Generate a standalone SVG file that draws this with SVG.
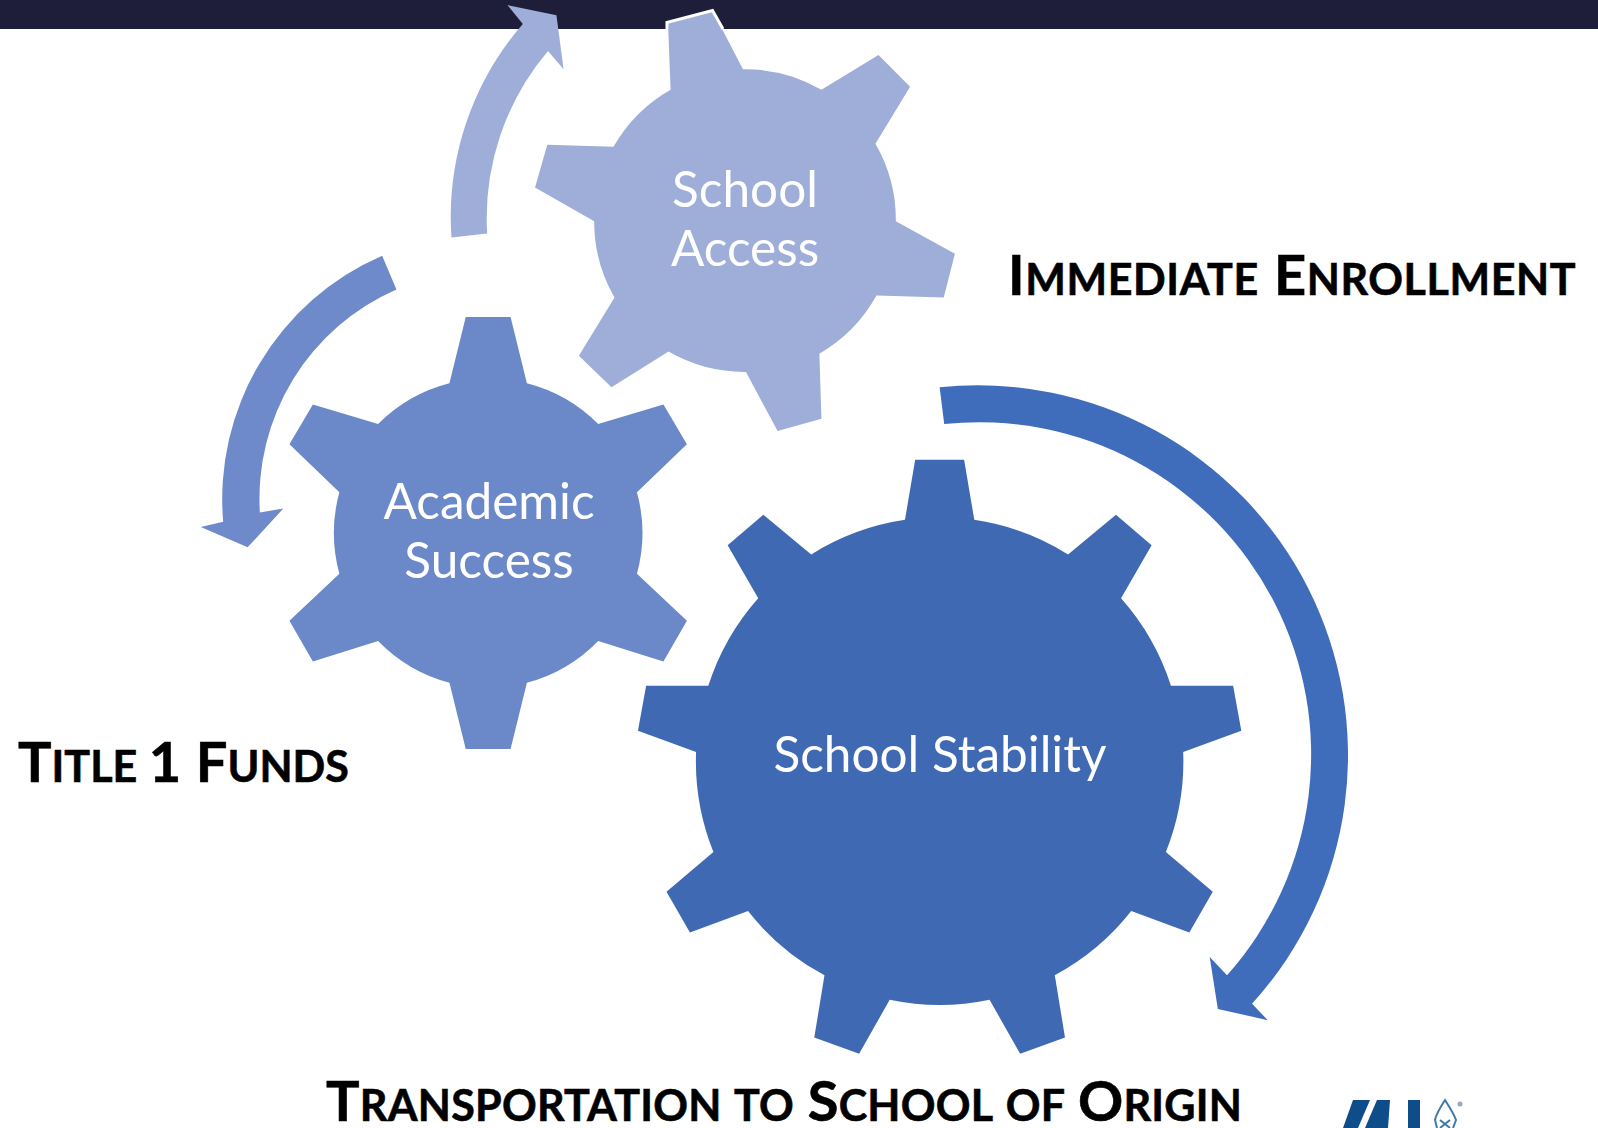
<svg xmlns="http://www.w3.org/2000/svg" width="1598" height="1128" viewBox="0 0 1598 1128">
<style>
.lbl{font-family:Lato,"Noto Sans",sans-serif;font-size:49.5px;fill:#fff;text-anchor:middle}
.cap{font-family:Lato,"Noto Sans",sans-serif;font-weight:700;font-size:43px;fill:#000;stroke:#000;stroke-width:.6}
.big{font-size:56px}
.g1{fill:#9FAED8}.g2{fill:#6B88C8}.g3{fill:#3F69B3}
</style>
<rect id="top-bar" width="1598" height="29" fill="#1E1E3A"/>
<g id="connectors" transform="scale(1.01913)">
<path class="g1" d="M498 5L546 15L553 68L537.7 50A254 254 0 0 0 478 229L443 233A289 289 0 0 1 513 23.5Z"/>
<path fill="#6E8ACA" d="M375 251L389 284A224 224 0 0 0 255 503L278 499L243 537L197 517L219 512A260 260 0 0 1 375 251Z"/>
<path fill="#3F6DBB" d="M922 380A363 363 0 0 1 1228.5 985L1244 1001L1195 990L1187 939L1204 957A326 326 0 0 0 926.5 416Z"/>
</g>
<g id="school-access">
<path class="g1" transform="scale(1.01913)" d="M655.5 23L699.5 11L729 68A149 149 0 0 1 806 88L862 54L893 85L859 141A149 149 0 0 1 879 217L937 249L926 292L860 290A149 149 0 0 1 804 347L806 411L763 423L732 365A149 149 0 0 1 656 345L600 380L568 349L603 292A149 149 0 0 1 583 217L525 184L537 142L602 144A149 149 0 0 1 658 88Z"/>
<polyline points="667,29 667,22.5 712.5,10.5 723,29" fill="none" stroke="#fff" stroke-width="3"/>
<text class="lbl" x="745" y="207">School</text>
<text class="lbl" x="745" y="266">Access</text>
</g>
<g id="academic-success">
<path class="g2" transform="scale(1.01913)" d="M457 311L501 311L517 376A152 152 0 0 1 587 416L651 397L674 436L625 483A152 152 0 0 1 625 563L674 609L651 649L587 629A152 152 0 0 1 517 670L501 735L457 735L441 670A152 152 0 0 1 371 629L307 649L284 609L333 563A152 152 0 0 1 333 483L284 436L307 397L371 416A152 152 0 0 1 441 376Z"/>
<text class="lbl" x="489" y="519">Academic</text>
<text class="lbl" x="489" y="578">Success</text>
</g>
<g id="school-stability">
<path class="g3" transform="scale(1.01913)" d="M898 451L946 451L956 510A239 239 0 0 1 1048 544L1095 505L1130 535L1100 587A239 239 0 0 1 1149 673L1210 673L1218 717L1161 738A239 239 0 0 1 1144 836L1190 875L1167 915L1110 894A239 239 0 0 1 1035 957L1045 1018L1001 1034L971 981A239 239 0 0 1 873 981L843 1034L799 1018L809 957A239 239 0 0 1 734 894L677 915L654 875L700 836A239 239 0 0 1 683 738L626 717L634 673L695 673A239 239 0 0 1 744 587L714 535L749 505L796 544A239 239 0 0 1 888 510Z"/>
<text class="lbl" x="940" y="772">School Stability</text>
</g>
<text class="cap" x="1008" y="295" letter-spacing=".6" word-spacing="4"><tspan class="big">I</tspan>MMEDIATE <tspan class="big">E</tspan>NROLLMENT</text>
<text class="cap" x="18" y="782" word-spacing="1"><tspan class="big">T</tspan>ITLE <tspan class="big">1 F</tspan>UNDS</text>
<text class="cap" x="326" y="1121" letter-spacing=".25" word-spacing="3"><tspan class="big">T</tspan>RANSPORTATION TO <tspan class="big">S</tspan>CHOOL OF <tspan class="big">O</tspan>RIGIN</text>
<g id="logo" fill="#0F4C8A">
<path d="M1343 1128L1353 1100H1370L1358 1128Z"/>
<path d="M1365 1128L1377 1100H1390L1388 1128Z"/>
<rect x="1408" y="1100" width="12" height="28"/>
<path d="M1437 1128L1435 1120Q1436 1114 1445 1100Q1454 1114 1456 1120L1453 1128" fill="none" stroke="#3F7AA8" stroke-width="2"/>
<path d="M1440 1128L1450 1120M1450 1128L1440 1120" stroke="#3F7AA8" stroke-width="2" fill="none"/>
<circle cx="1460" cy="1104" r="2.5" fill="#9AA8C4"/>
</g>
</svg>
